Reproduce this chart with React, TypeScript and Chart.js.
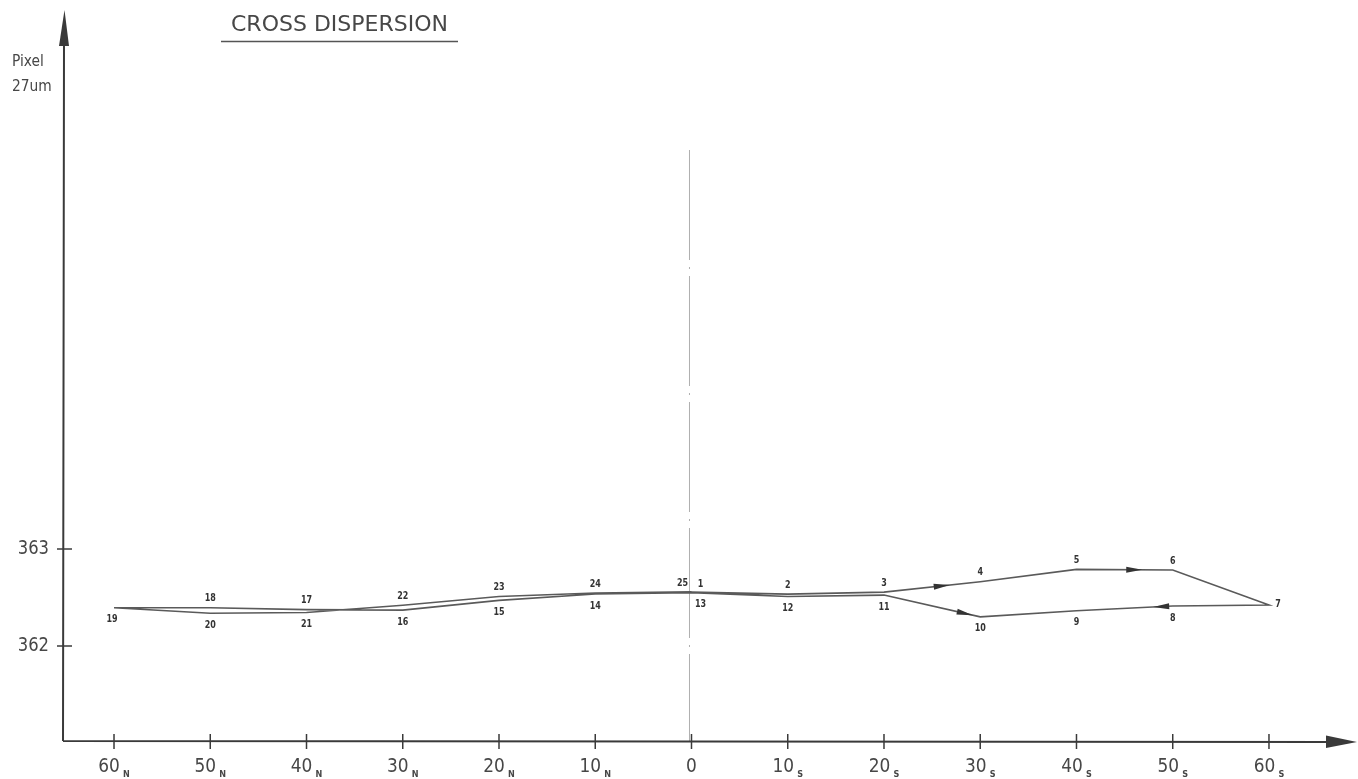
import React, { useEffect, useRef } from "react";
import { Chart, registerables } from "chart.js";

Chart.register(...registerables);

// ---------- data ----------
const TITLE = "CROSS DISPERSION";
const Y_TITLE_LINES = ["Pixel", "27um"];

const pointNumbers = [1, 2, 3, 4, 5, 6, 7, 8, 9, 10, 11, 12, 13, 14, 15, 16, 17, 18, 19, 20, 21, 22, 23, 24, 25];
// field position (N negative, S positive)
const positions = [0, 10, 20, 30, 40, 50, 60, 50, 40, 30, 20, 10, 0, -10, -20, -30, -40, -50, -60, -50, -40, -30, -20, -10, 0];
const pixelValues = [
  362.555, 362.535, 362.555, 362.663, 362.79, 362.783, 362.423, 362.412, 362.364, 362.3,
  362.525, 362.51, 362.55, 362.536, 362.47, 362.37, 362.375, 362.395, 362.395, 362.337,
  362.345, 362.42, 362.51, 362.546, 362.558,
];

const xTickValues = [-60, -50, -40, -30, -20, -10, 0, 10, 20, 30, 40, 50, 60];
const xTickNumbers = ["60", "50", "40", "30", "20", "10", "0", "10", "20", "30", "40", "50", "60"];
const xTickSubs = ["N", "N", "N", "N", "N", "N", "", "S", "S", "S", "S", "S", "S"];
const yTickValues = [362, 363];

// direction arrows on path segments (from point -> to point, fraction along)
const arrowFrom = [3, 5, 8, 11];
const arrowTo = [4, 6, 9, 10];
const arrowFrac = [0.6, 0.6, 0.12, 0.84];

// ---------- styles ----------
const AXIS_COLOR = "#3a3a3a";
const TEXT_COLOR = "#474747";
const LINE_COLOR = "#5a5a5a";
const FONT = "'DejaVu Sans', 'Liberation Sans', sans-serif";
// label placement per point: a=above, b=below, r=right, ar/al/br/bl
const labelPlace = ["ar", "a", "a", "a", "a", "a", "r", "b", "b", "b", "b", "b", "br", "b", "b", "b", "a", "a", "bl", "b", "b", "a", "a", "a", "al"];

function drawFitText(
  ctx: CanvasRenderingContext2D,
  text: string,
  x: number,
  y: number,
  size: number,
  align: "left" | "center" | "right",
  sx: number,
  weight = "normal"
) {
  ctx.save();
  ctx.font = `${weight} ${size}px ${FONT}`;
  ctx.textBaseline = "middle";
  ctx.textAlign = align;
  ctx.translate(x, y);
  ctx.scale(sx, 1);
  ctx.fillText(text, 0, 0);
  ctx.restore();
}

function textWidth(ctx: CanvasRenderingContext2D, text: string, size: number, sx: number, weight = "normal") {
  ctx.save();
  ctx.font = `${weight} ${size}px ${FONT}`;
  const w = ctx.measureText(text).width * sx;
  ctx.restore();
  return w;
}

function arrowHead(ctx: CanvasRenderingContext2D, x: number, y: number, ang: number, len: number, hw: number) {
  ctx.save();
  ctx.translate(x, y);
  ctx.rotate(ang);
  ctx.beginPath();
  ctx.moveTo(len / 2, 0);
  ctx.lineTo(-len / 2, -hw);
  ctx.lineTo(-len / 2, hw);
  ctx.closePath();
  ctx.fill();
  ctx.restore();
}

const decorPlugin = {
  id: "decor",
  beforeDraw(chart: any) {
    const ctx = chart.ctx as CanvasRenderingContext2D;
    ctx.save();
    ctx.fillStyle = "#ffffff";
    ctx.fillRect(0, 0, chart.width, chart.height);
    ctx.restore();
  },
  beforeDatasetsDraw(chart: any) {
    const ctx = chart.ctx as CanvasRenderingContext2D;
    const xs = chart.scales.x;
    const ca = chart.chartArea;
    const cx = xs.getPixelForValue(0) - 2;
    ctx.save();
    ctx.strokeStyle = "#b0b0b0";
    ctx.lineWidth = 1;
    ctx.setLineDash([110, 7, 2, 7]);
    ctx.beginPath();
    ctx.moveTo(cx, 150);
    ctx.lineTo(cx, ca.bottom);
    ctx.stroke();
    ctx.restore();
  },
  afterDatasetsDraw(chart: any) {
    const ctx = chart.ctx as CanvasRenderingContext2D;
    const xs = chart.scales.x;
    const ys = chart.scales.y;
    const ca = chart.chartArea;

    // direction arrows
    ctx.save();
    ctx.fillStyle = "#333";
    for (let k = 0; k < arrowFrom.length; k++) {
      const a = arrowFrom[k] - 1;
      const b = arrowTo[k] - 1;
      const x1 = xs.getPixelForValue(positions[a]);
      const y1 = ys.getPixelForValue(pixelValues[a]);
      const x2 = xs.getPixelForValue(positions[b]);
      const y2 = ys.getPixelForValue(pixelValues[b]);
      const t = arrowFrac[k];
      const px = x1 + (x2 - x1) * t;
      const py = y1 + (y2 - y1) * t;
      arrowHead(ctx, px, py, Math.atan2(y2 - y1, x2 - x1), 16, 3);
    }
    ctx.restore();

    // point labels
    ctx.save();
    ctx.fillStyle = "#333";
    for (let i = 0; i < pointNumbers.length; i++) {
      const px = xs.getPixelForValue(positions[i]);
      const py = ys.getPixelForValue(pixelValues[i]);
      const p = labelPlace[i];
      let lx = px;
      let ly = py;
      if (p === "a") ly = py - 9;
      else if (p === "b") ly = py + 12;
      else if (p === "r") { lx = px + 9; ly = py - 1; }
      else if (p === "ar") { lx = px + 9; ly = py - 8; }
      else if (p === "al") { lx = px - 9; ly = py - 8; }
      else if (p === "br") { lx = px + 9; ly = py + 12; }
      else if (p === "bl") { lx = px - 2; ly = py + 12; }
      drawFitText(ctx, String(pointNumbers[i]), lx, ly, 10, "center", 0.8, "bold");
    }
    ctx.restore();

    // axes
    ctx.save();
    ctx.strokeStyle = AXIS_COLOR;
    ctx.fillStyle = AXIS_COLOR;
    ctx.lineWidth = 2;
    ctx.beginPath();
    ctx.moveTo(ca.left, ca.bottom);
    ctx.lineTo(ca.left + 1, 40);
    ctx.moveTo(ca.left, ca.bottom);
    ctx.lineTo(1332, ca.bottom + 1);
    ctx.stroke();
    // y arrow
    ctx.beginPath();
    ctx.moveTo(ca.left + 1.5, 10);
    ctx.lineTo(ca.left - 4, 46);
    ctx.lineTo(ca.left + 6, 46);
    ctx.closePath();
    ctx.fill();
    // x arrow
    ctx.beginPath();
    ctx.moveTo(1357, ca.bottom + 1);
    ctx.lineTo(1326, ca.bottom - 5.5);
    ctx.lineTo(1326, ca.bottom + 7);
    ctx.closePath();
    ctx.fill();

    // x ticks
    ctx.lineWidth = 1.5;
    for (let i = 0; i < xTickValues.length; i++) {
      const x = xs.getPixelForValue(xTickValues[i]);
      ctx.beginPath();
      ctx.moveTo(x, ca.bottom - 7);
      ctx.lineTo(x, ca.bottom + 8);
      ctx.stroke();
    }
    // y ticks
    for (let i = 0; i < yTickValues.length; i++) {
      const y = ys.getPixelForValue(yTickValues[i]);
      ctx.beginPath();
      ctx.moveTo(ca.left - 6, y);
      ctx.lineTo(ca.left + 9, y);
      ctx.stroke();
    }
    ctx.restore();

    // tick labels
    ctx.save();
    ctx.fillStyle = TEXT_COLOR;
    for (let i = 0; i < xTickValues.length; i++) {
      const x = xs.getPixelForValue(xTickValues[i]);
      const num = xTickNumbers[i];
      const sub = xTickSubs[i];
      const wn = textWidth(ctx, num, 20, 0.85);
      const ws = sub ? textWidth(ctx, sub, 9, 0.9, "bold") + 3 : 0;
      const start = x - (wn + ws) / 2;
      drawFitText(ctx, num, start, 767, 20, "left", 0.85);
      if (sub) drawFitText(ctx, sub, start + wn + 3, 775, 9, "left", 0.9, "bold");
    }
    for (let i = 0; i < yTickValues.length; i++) {
      const y = ys.getPixelForValue(yTickValues[i]);
      drawFitText(ctx, String(yTickValues[i]), 49, y, 20, "right", 0.82);
    }

    // y axis title
    drawFitText(ctx, Y_TITLE_LINES[0], 12, 62, 15, "left", 0.92);
    drawFitText(ctx, Y_TITLE_LINES[1], 12, 87, 15, "left", 0.92);

    // title
    const tw = textWidth(ctx, TITLE, 22, 1);
    const targetW = 217;
    drawFitText(ctx, TITLE, 339.5, 25, 22, "center", targetW / tw);
    ctx.strokeStyle = "#555";
    ctx.lineWidth = 1.5;
    ctx.beginPath();
    ctx.moveTo(221, 41.5);
    ctx.lineTo(458, 41.5);
    ctx.stroke();
    ctx.restore();
  },
};

export default function App() {
  const canvasRef = useRef<HTMLCanvasElement | null>(null);

  useEffect(() => {
    if (!canvasRef.current) return;
    const chart = new Chart(canvasRef.current, {
      type: "line",
      data: {
        datasets: [
          {
            data: positions.map((x, i) => ({ x, y: pixelValues[i] })),
            borderColor: LINE_COLOR,
            borderWidth: 1.6,
            pointRadius: 0,
            tension: 0,
            fill: false,
          },
        ],
      },
      options: {
        animation: false,
        responsive: false,
        devicePixelRatio: 1,
        layout: { padding: { left: 63, right: 28, top: 45, bottom: 38 } },
        scales: {
          x: { type: "linear", min: -65.3, max: 66.34, display: false },
          y: { type: "linear", min: 361.0206, max: 368.196, display: false },
        },
        plugins: {
          legend: { display: false },
          tooltip: { enabled: false },
          title: { display: false },
        },
      },
      plugins: [decorPlugin],
    } as any);
    return () => chart.destroy();
  }, []);

  return (
    <div style={{ position: "fixed", left: 0, top: 0, width: 1358, height: 779, background: "#fff" }}>
      <canvas ref={canvasRef} width={1358} height={779} style={{ display: "block" }} />
    </div>
  );
}
